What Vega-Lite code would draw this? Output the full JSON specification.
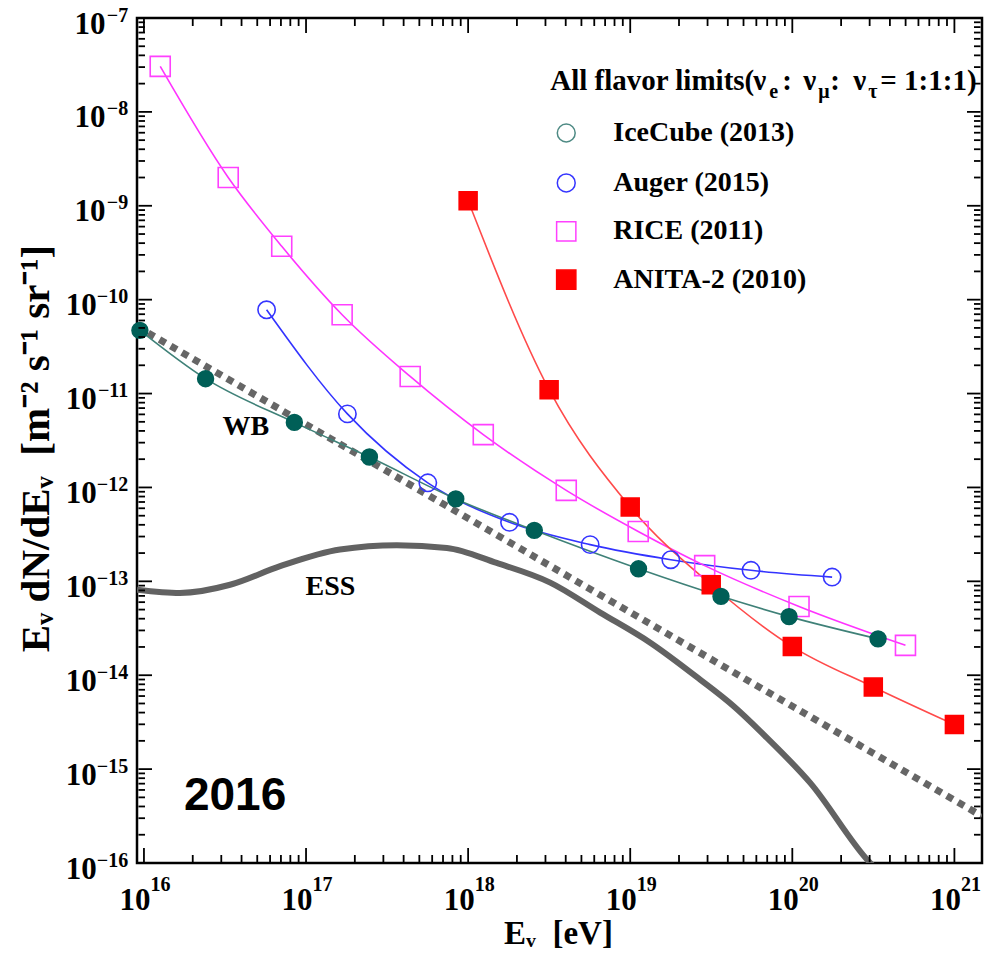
{
  "$schema": "https://vega.github.io/schema/vega-lite/v6.json",
  "width": 845,
  "height": 845,
  "autosize": {"type": "none"},
  "padding": {"left": 137, "top": 18, "right": 7, "bottom": 98},
  "background": "#ffffff",
  "config": {"view": {"stroke": "#000000", "strokeWidth": 2.5}, "font": "Liberation Serif"},
  "datasets": {
    "limits": [
      {"series": "Auger (2015)", "E": 5.71e16, "F": 7.8e-11},
      {"series": "Auger (2015)", "E": 1.80e17, "F": 6.07e-12},
      {"series": "Auger (2015)", "E": 5.64e17, "F": 1.12e-12},
      {"series": "Auger (2015)", "E": 1.80e18, "F": 4.25e-13},
      {"series": "Auger (2015)", "E": 5.66e18, "F": 2.46e-13},
      {"series": "Auger (2015)", "E": 1.78e19, "F": 1.70e-13},
      {"series": "Auger (2015)", "E": 5.56e19, "F": 1.31e-13},
      {"series": "Auger (2015)", "E": 1.76e20, "F": 1.11e-13},
      {"series": "RICE (2011)", "E": 1.26e16, "F": 3.05e-8},
      {"series": "RICE (2011)", "E": 3.31e16, "F": 2.0e-9},
      {"series": "RICE (2011)", "E": 7.08e16, "F": 3.7e-10},
      {"series": "RICE (2011)", "E": 1.67e17, "F": 6.9e-11},
      {"series": "RICE (2011)", "E": 4.39e17, "F": 1.52e-11},
      {"series": "RICE (2011)", "E": 1.24e18, "F": 3.65e-12},
      {"series": "RICE (2011)", "E": 4.03e18, "F": 9.3e-13},
      {"series": "RICE (2011)", "E": 1.12e19, "F": 3.4e-13},
      {"series": "RICE (2011)", "E": 2.88e19, "F": 1.47e-13},
      {"series": "RICE (2011)", "E": 1.10e20, "F": 5.4e-14},
      {"series": "RICE (2011)", "E": 4.99e20, "F": 2.08e-14},
      {"series": "ANITA-2 (2010)", "E": 1.0e18, "F": 1.13e-9},
      {"series": "ANITA-2 (2010)", "E": 3.16e18, "F": 1.1e-11},
      {"series": "ANITA-2 (2010)", "E": 1.0e19, "F": 6.2e-13},
      {"series": "ANITA-2 (2010)", "E": 3.16e19, "F": 9.2e-14},
      {"series": "ANITA-2 (2010)", "E": 1.0e20, "F": 2.02e-14},
      {"series": "ANITA-2 (2010)", "E": 3.16e20, "F": 7.5e-15},
      {"series": "ANITA-2 (2010)", "E": 1.0e21, "F": 2.98e-15},
      {"series": "IceCube (2013)", "E": 9.44e15, "F": 4.71e-11},
      {"series": "IceCube (2013)", "E": 2.40e16, "F": 1.44e-11},
      {"series": "IceCube (2013)", "E": 8.47e16, "F": 4.93e-12},
      {"series": "IceCube (2013)", "E": 2.46e17, "F": 2.11e-12},
      {"series": "IceCube (2013)", "E": 8.39e17, "F": 7.55e-13},
      {"series": "IceCube (2013)", "E": 2.56e18, "F": 3.49e-13},
      {"series": "IceCube (2013)", "E": 1.125e19, "F": 1.36e-13},
      {"series": "IceCube (2013)", "E": 3.63e19, "F": 6.92e-14},
      {"series": "IceCube (2013)", "E": 9.55e19, "F": 4.21e-14},
      {"series": "IceCube (2013)", "E": 3.38e20, "F": 2.44e-14}
    ],
    "ess": [
      {"E": 9.06e15, "F": 8.16e-14},
      {"E": 1.667e16, "F": 7.52e-14},
      {"E": 3.40e16, "F": 9.2e-14},
      {"E": 6.92e16, "F": 1.45e-13},
      {"E": 1.62e17, "F": 2.18e-13},
      {"E": 3.63e17, "F": 2.42e-13},
      {"E": 7.40e17, "F": 2.27e-13},
      {"E": 1.50e18, "F": 1.57e-13},
      {"E": 3.21e18, "F": 9.7e-14},
      {"E": 6.53e18, "F": 4.65e-14},
      {"E": 1.33e19, "F": 2.22e-14},
      {"E": 2.70e19, "F": 8.98e-15},
      {"E": 4.35e19, "F": 4.67e-15},
      {"E": 6.98e19, "F": 2.15e-15},
      {"E": 1.29e20, "F": 7.13e-16},
      {"E": 2.96e20, "F": 1.04e-16},
      {"E": 3.49e20, "F": 7.8e-17}
    ],
    "wb": [
      {"E": 9.06e15, "F": 5.19e-11},
      {"E": 1.48e21, "F": 3.15e-16}
    ],
    "xBottom": [
      {"E":1e16,"a":1.02e-16,"b":1.445e-16},{"E":1e17,"a":1.02e-16,"b":1.445e-16},{"E":1e18,"a":1.02e-16,"b":1.445e-16},
      {"E":1e19,"a":1.02e-16,"b":1.445e-16},{"E":1e20,"a":1.02e-16,"b":1.445e-16},{"E":1e21,"a":1.02e-16,"b":1.445e-16},
      {"E":2e16,"a":1.02e-16,"b":1.217e-16},{"E":3e16,"a":1.02e-16,"b":1.217e-16},{"E":4e16,"a":1.02e-16,"b":1.217e-16},{"E":5e16,"a":1.02e-16,"b":1.217e-16},
      {"E":6e16,"a":1.02e-16,"b":1.217e-16},{"E":7e16,"a":1.02e-16,"b":1.217e-16},{"E":8e16,"a":1.02e-16,"b":1.217e-16},{"E":9e16,"a":1.02e-16,"b":1.217e-16},
      {"E":2e17,"a":1.02e-16,"b":1.217e-16},{"E":3e17,"a":1.02e-16,"b":1.217e-16},{"E":4e17,"a":1.02e-16,"b":1.217e-16},{"E":5e17,"a":1.02e-16,"b":1.217e-16},
      {"E":6e17,"a":1.02e-16,"b":1.217e-16},{"E":7e17,"a":1.02e-16,"b":1.217e-16},{"E":8e17,"a":1.02e-16,"b":1.217e-16},{"E":9e17,"a":1.02e-16,"b":1.217e-16},
      {"E":2e18,"a":1.02e-16,"b":1.217e-16},{"E":3e18,"a":1.02e-16,"b":1.217e-16},{"E":4e18,"a":1.02e-16,"b":1.217e-16},{"E":5e18,"a":1.02e-16,"b":1.217e-16},
      {"E":6e18,"a":1.02e-16,"b":1.217e-16},{"E":7e18,"a":1.02e-16,"b":1.217e-16},{"E":8e18,"a":1.02e-16,"b":1.217e-16},{"E":9e18,"a":1.02e-16,"b":1.217e-16},
      {"E":2e19,"a":1.02e-16,"b":1.217e-16},{"E":3e19,"a":1.02e-16,"b":1.217e-16},{"E":4e19,"a":1.02e-16,"b":1.217e-16},{"E":5e19,"a":1.02e-16,"b":1.217e-16},
      {"E":6e19,"a":1.02e-16,"b":1.217e-16},{"E":7e19,"a":1.02e-16,"b":1.217e-16},{"E":8e19,"a":1.02e-16,"b":1.217e-16},{"E":9e19,"a":1.02e-16,"b":1.217e-16},
      {"E":2e20,"a":1.02e-16,"b":1.217e-16},{"E":3e20,"a":1.02e-16,"b":1.217e-16},{"E":4e20,"a":1.02e-16,"b":1.217e-16},{"E":5e20,"a":1.02e-16,"b":1.217e-16},
      {"E":6e20,"a":1.02e-16,"b":1.217e-16},{"E":7e20,"a":1.02e-16,"b":1.217e-16},{"E":8e20,"a":1.02e-16,"b":1.217e-16},{"E":9e20,"a":1.02e-16,"b":1.217e-16}
    ],
    "xTop": [
      {"E":1e16,"a":9.8e-8,"b":6.92e-8},{"E":1e17,"a":9.8e-8,"b":6.92e-8},{"E":1e18,"a":9.8e-8,"b":6.92e-8},
      {"E":1e19,"a":9.8e-8,"b":6.92e-8},{"E":1e20,"a":9.8e-8,"b":6.92e-8},{"E":1e21,"a":9.8e-8,"b":6.92e-8},
      {"E":2e16,"a":9.8e-8,"b":8.22e-8},{"E":3e16,"a":9.8e-8,"b":8.22e-8},{"E":4e16,"a":9.8e-8,"b":8.22e-8},{"E":5e16,"a":9.8e-8,"b":8.22e-8},
      {"E":6e16,"a":9.8e-8,"b":8.22e-8},{"E":7e16,"a":9.8e-8,"b":8.22e-8},{"E":8e16,"a":9.8e-8,"b":8.22e-8},{"E":9e16,"a":9.8e-8,"b":8.22e-8},
      {"E":2e17,"a":9.8e-8,"b":8.22e-8},{"E":3e17,"a":9.8e-8,"b":8.22e-8},{"E":4e17,"a":9.8e-8,"b":8.22e-8},{"E":5e17,"a":9.8e-8,"b":8.22e-8},
      {"E":6e17,"a":9.8e-8,"b":8.22e-8},{"E":7e17,"a":9.8e-8,"b":8.22e-8},{"E":8e17,"a":9.8e-8,"b":8.22e-8},{"E":9e17,"a":9.8e-8,"b":8.22e-8},
      {"E":2e18,"a":9.8e-8,"b":8.22e-8},{"E":3e18,"a":9.8e-8,"b":8.22e-8},{"E":4e18,"a":9.8e-8,"b":8.22e-8},{"E":5e18,"a":9.8e-8,"b":8.22e-8},
      {"E":6e18,"a":9.8e-8,"b":8.22e-8},{"E":7e18,"a":9.8e-8,"b":8.22e-8},{"E":8e18,"a":9.8e-8,"b":8.22e-8},{"E":9e18,"a":9.8e-8,"b":8.22e-8},
      {"E":2e19,"a":9.8e-8,"b":8.22e-8},{"E":3e19,"a":9.8e-8,"b":8.22e-8},{"E":4e19,"a":9.8e-8,"b":8.22e-8},{"E":5e19,"a":9.8e-8,"b":8.22e-8},
      {"E":6e19,"a":9.8e-8,"b":8.22e-8},{"E":7e19,"a":9.8e-8,"b":8.22e-8},{"E":8e19,"a":9.8e-8,"b":8.22e-8},{"E":9e19,"a":9.8e-8,"b":8.22e-8},
      {"E":2e20,"a":9.8e-8,"b":8.22e-8},{"E":3e20,"a":9.8e-8,"b":8.22e-8},{"E":4e20,"a":9.8e-8,"b":8.22e-8},{"E":5e20,"a":9.8e-8,"b":8.22e-8},
      {"E":6e20,"a":9.8e-8,"b":8.22e-8},{"E":7e20,"a":9.8e-8,"b":8.22e-8},{"E":8e20,"a":9.8e-8,"b":8.22e-8},{"E":9e20,"a":9.8e-8,"b":8.22e-8}
    ],
    "yLeft": [
      {"F":1e-16,"a":9.25e15,"b":1.1214e16},{"F":1e-15,"a":9.25e15,"b":1.1214e16},{"F":1e-14,"a":9.25e15,"b":1.1214e16},{"F":1e-13,"a":9.25e15,"b":1.1214e16},
      {"F":1e-12,"a":9.25e15,"b":1.1214e16},{"F":1e-11,"a":9.25e15,"b":1.1214e16},{"F":1e-10,"a":9.25e15,"b":1.1214e16},{"F":1e-9,"a":9.25e15,"b":1.1214e16},
      {"F":1e-8,"a":9.25e15,"b":1.1214e16},{"F":1e-7,"a":9.25e15,"b":1.1214e16},
      {"F":2e-16,"a":9.25e15,"b":1.0152e16},{"F":3e-16,"a":9.25e15,"b":1.0152e16},{"F":4e-16,"a":9.25e15,"b":1.0152e16},{"F":5e-16,"a":9.25e15,"b":1.0152e16},
      {"F":6e-16,"a":9.25e15,"b":1.0152e16},{"F":7e-16,"a":9.25e15,"b":1.0152e16},{"F":8e-16,"a":9.25e15,"b":1.0152e16},{"F":9e-16,"a":9.25e15,"b":1.0152e16},
      {"F":2e-15,"a":9.25e15,"b":1.0152e16},{"F":3e-15,"a":9.25e15,"b":1.0152e16},{"F":4e-15,"a":9.25e15,"b":1.0152e16},{"F":5e-15,"a":9.25e15,"b":1.0152e16},
      {"F":6e-15,"a":9.25e15,"b":1.0152e16},{"F":7e-15,"a":9.25e15,"b":1.0152e16},{"F":8e-15,"a":9.25e15,"b":1.0152e16},{"F":9e-15,"a":9.25e15,"b":1.0152e16},
      {"F":2e-14,"a":9.25e15,"b":1.0152e16},{"F":3e-14,"a":9.25e15,"b":1.0152e16},{"F":4e-14,"a":9.25e15,"b":1.0152e16},{"F":5e-14,"a":9.25e15,"b":1.0152e16},
      {"F":6e-14,"a":9.25e15,"b":1.0152e16},{"F":7e-14,"a":9.25e15,"b":1.0152e16},{"F":8e-14,"a":9.25e15,"b":1.0152e16},{"F":9e-14,"a":9.25e15,"b":1.0152e16},
      {"F":2e-13,"a":9.25e15,"b":1.0152e16},{"F":3e-13,"a":9.25e15,"b":1.0152e16},{"F":4e-13,"a":9.25e15,"b":1.0152e16},{"F":5e-13,"a":9.25e15,"b":1.0152e16},
      {"F":6e-13,"a":9.25e15,"b":1.0152e16},{"F":7e-13,"a":9.25e15,"b":1.0152e16},{"F":8e-13,"a":9.25e15,"b":1.0152e16},{"F":9e-13,"a":9.25e15,"b":1.0152e16},
      {"F":2e-12,"a":9.25e15,"b":1.0152e16},{"F":3e-12,"a":9.25e15,"b":1.0152e16},{"F":4e-12,"a":9.25e15,"b":1.0152e16},{"F":5e-12,"a":9.25e15,"b":1.0152e16},
      {"F":6e-12,"a":9.25e15,"b":1.0152e16},{"F":7e-12,"a":9.25e15,"b":1.0152e16},{"F":8e-12,"a":9.25e15,"b":1.0152e16},{"F":9e-12,"a":9.25e15,"b":1.0152e16},
      {"F":2e-11,"a":9.25e15,"b":1.0152e16},{"F":3e-11,"a":9.25e15,"b":1.0152e16},{"F":4e-11,"a":9.25e15,"b":1.0152e16},{"F":5e-11,"a":9.25e15,"b":1.0152e16},
      {"F":6e-11,"a":9.25e15,"b":1.0152e16},{"F":7e-11,"a":9.25e15,"b":1.0152e16},{"F":8e-11,"a":9.25e15,"b":1.0152e16},{"F":9e-11,"a":9.25e15,"b":1.0152e16},
      {"F":2e-10,"a":9.25e15,"b":1.0152e16},{"F":3e-10,"a":9.25e15,"b":1.0152e16},{"F":4e-10,"a":9.25e15,"b":1.0152e16},{"F":5e-10,"a":9.25e15,"b":1.0152e16},
      {"F":6e-10,"a":9.25e15,"b":1.0152e16},{"F":7e-10,"a":9.25e15,"b":1.0152e16},{"F":8e-10,"a":9.25e15,"b":1.0152e16},{"F":9e-10,"a":9.25e15,"b":1.0152e16},
      {"F":2e-9,"a":9.25e15,"b":1.0152e16},{"F":3e-9,"a":9.25e15,"b":1.0152e16},{"F":4e-9,"a":9.25e15,"b":1.0152e16},{"F":5e-9,"a":9.25e15,"b":1.0152e16},
      {"F":6e-9,"a":9.25e15,"b":1.0152e16},{"F":7e-9,"a":9.25e15,"b":1.0152e16},{"F":8e-9,"a":9.25e15,"b":1.0152e16},{"F":9e-9,"a":9.25e15,"b":1.0152e16},
      {"F":2e-8,"a":9.25e15,"b":1.0152e16},{"F":3e-8,"a":9.25e15,"b":1.0152e16},{"F":4e-8,"a":9.25e15,"b":1.0152e16},{"F":5e-8,"a":9.25e15,"b":1.0152e16},
      {"F":6e-8,"a":9.25e15,"b":1.0152e16},{"F":7e-8,"a":9.25e15,"b":1.0152e16},{"F":8e-8,"a":9.25e15,"b":1.0152e16},{"F":9e-8,"a":9.25e15,"b":1.0152e16}
    ],
    "yRight": [
      {"F":1e-16,"a":1.45e21,"b":1.1958e21},{"F":1e-15,"a":1.45e21,"b":1.1958e21},{"F":1e-14,"a":1.45e21,"b":1.1958e21},{"F":1e-13,"a":1.45e21,"b":1.1958e21},
      {"F":1e-12,"a":1.45e21,"b":1.1958e21},{"F":1e-11,"a":1.45e21,"b":1.1958e21},{"F":1e-10,"a":1.45e21,"b":1.1958e21},{"F":1e-9,"a":1.45e21,"b":1.1958e21},
      {"F":1e-8,"a":1.45e21,"b":1.1958e21},{"F":1e-7,"a":1.45e21,"b":1.1958e21},
      {"F":2e-16,"a":1.45e21,"b":1.3208e21},{"F":3e-16,"a":1.45e21,"b":1.3208e21},{"F":4e-16,"a":1.45e21,"b":1.3208e21},{"F":5e-16,"a":1.45e21,"b":1.3208e21},
      {"F":6e-16,"a":1.45e21,"b":1.3208e21},{"F":7e-16,"a":1.45e21,"b":1.3208e21},{"F":8e-16,"a":1.45e21,"b":1.3208e21},{"F":9e-16,"a":1.45e21,"b":1.3208e21},
      {"F":2e-15,"a":1.45e21,"b":1.3208e21},{"F":3e-15,"a":1.45e21,"b":1.3208e21},{"F":4e-15,"a":1.45e21,"b":1.3208e21},{"F":5e-15,"a":1.45e21,"b":1.3208e21},
      {"F":6e-15,"a":1.45e21,"b":1.3208e21},{"F":7e-15,"a":1.45e21,"b":1.3208e21},{"F":8e-15,"a":1.45e21,"b":1.3208e21},{"F":9e-15,"a":1.45e21,"b":1.3208e21},
      {"F":2e-14,"a":1.45e21,"b":1.3208e21},{"F":3e-14,"a":1.45e21,"b":1.3208e21},{"F":4e-14,"a":1.45e21,"b":1.3208e21},{"F":5e-14,"a":1.45e21,"b":1.3208e21},
      {"F":6e-14,"a":1.45e21,"b":1.3208e21},{"F":7e-14,"a":1.45e21,"b":1.3208e21},{"F":8e-14,"a":1.45e21,"b":1.3208e21},{"F":9e-14,"a":1.45e21,"b":1.3208e21},
      {"F":2e-13,"a":1.45e21,"b":1.3208e21},{"F":3e-13,"a":1.45e21,"b":1.3208e21},{"F":4e-13,"a":1.45e21,"b":1.3208e21},{"F":5e-13,"a":1.45e21,"b":1.3208e21},
      {"F":6e-13,"a":1.45e21,"b":1.3208e21},{"F":7e-13,"a":1.45e21,"b":1.3208e21},{"F":8e-13,"a":1.45e21,"b":1.3208e21},{"F":9e-13,"a":1.45e21,"b":1.3208e21},
      {"F":2e-12,"a":1.45e21,"b":1.3208e21},{"F":3e-12,"a":1.45e21,"b":1.3208e21},{"F":4e-12,"a":1.45e21,"b":1.3208e21},{"F":5e-12,"a":1.45e21,"b":1.3208e21},
      {"F":6e-12,"a":1.45e21,"b":1.3208e21},{"F":7e-12,"a":1.45e21,"b":1.3208e21},{"F":8e-12,"a":1.45e21,"b":1.3208e21},{"F":9e-12,"a":1.45e21,"b":1.3208e21},
      {"F":2e-11,"a":1.45e21,"b":1.3208e21},{"F":3e-11,"a":1.45e21,"b":1.3208e21},{"F":4e-11,"a":1.45e21,"b":1.3208e21},{"F":5e-11,"a":1.45e21,"b":1.3208e21},
      {"F":6e-11,"a":1.45e21,"b":1.3208e21},{"F":7e-11,"a":1.45e21,"b":1.3208e21},{"F":8e-11,"a":1.45e21,"b":1.3208e21},{"F":9e-11,"a":1.45e21,"b":1.3208e21},
      {"F":2e-10,"a":1.45e21,"b":1.3208e21},{"F":3e-10,"a":1.45e21,"b":1.3208e21},{"F":4e-10,"a":1.45e21,"b":1.3208e21},{"F":5e-10,"a":1.45e21,"b":1.3208e21},
      {"F":6e-10,"a":1.45e21,"b":1.3208e21},{"F":7e-10,"a":1.45e21,"b":1.3208e21},{"F":8e-10,"a":1.45e21,"b":1.3208e21},{"F":9e-10,"a":1.45e21,"b":1.3208e21},
      {"F":2e-9,"a":1.45e21,"b":1.3208e21},{"F":3e-9,"a":1.45e21,"b":1.3208e21},{"F":4e-9,"a":1.45e21,"b":1.3208e21},{"F":5e-9,"a":1.45e21,"b":1.3208e21},
      {"F":6e-9,"a":1.45e21,"b":1.3208e21},{"F":7e-9,"a":1.45e21,"b":1.3208e21},{"F":8e-9,"a":1.45e21,"b":1.3208e21},{"F":9e-9,"a":1.45e21,"b":1.3208e21},
      {"F":2e-8,"a":1.45e21,"b":1.3208e21},{"F":3e-8,"a":1.45e21,"b":1.3208e21},{"F":4e-8,"a":1.45e21,"b":1.3208e21},{"F":5e-8,"a":1.45e21,"b":1.3208e21},
      {"F":6e-8,"a":1.45e21,"b":1.3208e21},{"F":7e-8,"a":1.45e21,"b":1.3208e21},{"F":8e-8,"a":1.45e21,"b":1.3208e21},{"F":9e-8,"a":1.45e21,"b":1.3208e21}
    ],
    "legendRows": [
      {"series": "IceCube (2013)", "E": 4.03e18, "F": 5.96e-9},
      {"series": "Auger (2015)", "E": 4.03e18, "F": 1.75e-9},
      {"series": "RICE (2011)", "E": 4.03e18, "F": 5.34e-10},
      {"series": "ANITA-2 (2010)", "E": 4.03e18, "F": 1.633e-10}
    ],
    "notes": [
      {"label": "WB", "E": 4.25e16, "F": 3.65e-12},
      {"label": "ESS", "E": 1.416e17, "F": 7.21e-14}
    ],
    "year": [
      {"label": "2016", "E": 3.65e16, "F": 3.7e-16}
    ],
    "titleMain": [
      {"label": "All flavor limits(", "E": 3.208e18, "F": 1.723e-8},
      {"label": "ν", "E": 5.74e19, "F": 1.723e-8},
      {"label": ":", "E": 8.67e19, "F": 1.723e-8},
      {"label": "ν", "E": 1.169e20, "F": 1.723e-8},
      {"label": ":", "E": 1.717e20, "F": 1.723e-8},
      {"label": "ν", "E": 2.38e20, "F": 1.723e-8},
      {"label": "= 1:1:1)", "E": 3.49e20, "F": 1.723e-8}
    ],
    "titleSub": [
      {"label": "e", "E": 7.21e19, "F": 1.416e-8},
      {"label": "μ", "E": 1.446e20, "F": 1.416e-8},
      {"label": "τ", "E": 2.94e20, "F": 1.416e-8}
    ]
  },
  "resolve": {"axis": {"x": "independent", "y": "independent"}},
  "layer": [
    {
      "data": {"name": "ess"},
      "mark": {"type": "line", "interpolate": "monotone", "color": "#626262", "strokeWidth": 6, "clip": true},
      "encoding": {
        "x": {
          "field": "E", "type": "quantitative",
          "scale": {"type": "log", "domain": [9.06e15, 1.48e21], "nice": false},
          "axis": {
            "orient": "bottom", "values": [1e16, 1e17, 1e18, 1e19, 1e20, 1e21],
            "labelExpr": "'10'",
            "tickSize": 0, "tickOpacity": 0, "domain": false, "grid": false,
            "labelFont": "Liberation Serif", "labelFontWeight": "bold", "labelFontSize": 31, "labelColor": "#000000",
            "labelAlign": "right", "labelBaseline": "alphabetic", "labelOffset": 6, "labelPadding": 46.7,
            "labelOverlap": false, "labelFlush": false, "labelBound": false,
            "title": "Eᵥ\u00a0\u00a0[eV]", "titleFont": "Liberation Serif", "titleFontSize": 33, "titleFontWeight": "bold", "titleColor": "#000000",
            "titleBaseline": "alphabetic", "titleAlign": "center", "titleX": 421, "titleY": 80.5
          }
        },
        "y": {
          "field": "F", "type": "quantitative",
          "scale": {"type": "log", "domain": [1e-16, 1e-7], "nice": false},
          "axis": {
            "orient": "left", "values": [1e-16, 1e-15, 1e-14, 1e-13, 1e-12, 1e-11, 1e-10],
            "labelExpr": "'10'",
            "tickSize": 0, "tickOpacity": 0, "domain": false, "grid": false,
            "labelFont": "Liberation Serif", "labelFontWeight": "bold", "labelFontSize": 31, "labelColor": "#000000",
            "labelAlign": "right", "labelBaseline": "alphabetic", "labelOffset": 15, "labelPadding": 40.7,
            "labelOverlap": false, "labelFlush": false, "labelBound": false,
            "title": "Eᵥ dN/dEᵥ\u00a0\u00a0[m⁻² s⁻¹ sr⁻¹]", "titleFont": "Liberation Serif", "titleFontSize": 41, "titleFontWeight": "bold", "titleColor": "#000000",
            "titleAngle": 270, "titleBaseline": "alphabetic", "titleAlign": "center", "titleX": -89, "titleY": 430
          }
        }
      }
    },
    {
      "data": {"name": "wb"},
      "mark": {"type": "line", "color": "#666666", "strokeWidth": 7, "strokeDash": [7, 6], "clip": true},
      "encoding": {
        "x": {
          "field": "E", "type": "quantitative",
          "scale": {"type": "log", "domain": [9.06e15, 1.48e21], "nice": false},
          "axis": {
            "orient": "bottom", "values": [1e16, 1e17, 1e18, 1e19, 1e20, 1e21],
            "labelExpr": "'' + round(log(datum.value)/LN10)",
            "tickSize": 0, "tickOpacity": 0, "domain": false, "grid": false,
            "labelFont": "Liberation Serif", "labelFontWeight": "bold", "labelFontSize": 20, "labelColor": "#000000",
            "labelAlign": "left", "labelBaseline": "alphabetic", "labelOffset": 6, "labelPadding": 27,
            "labelOverlap": false, "labelFlush": false, "labelBound": false, "title": null
          }
        },
        "y": {
          "field": "F", "type": "quantitative",
          "scale": {"type": "log", "domain": [1e-16, 1e-7], "nice": false},
          "axis": {
            "orient": "left", "values": [1e-9, 1e-8, 1e-7],
            "labelExpr": "'10'",
            "tickSize": 0, "tickOpacity": 0, "domain": false, "grid": false,
            "labelFont": "Liberation Serif", "labelFontWeight": "bold", "labelFontSize": 31, "labelColor": "#000000",
            "labelAlign": "right", "labelBaseline": "alphabetic", "labelOffset": 15, "labelPadding": 32,
            "labelOverlap": false, "labelFlush": false, "labelBound": false, "title": null
          }
        }
      }
    },
    {
      "data": {"name": "limits"},
      "mark": {"type": "line", "interpolate": "monotone", "strokeWidth": 1.6},
      "encoding": {
        "x": {"field": "E", "type": "quantitative", "scale": {"type": "log", "domain": [9.06e15, 1.48e21], "nice": false}, "axis": null},
        "y": {
          "field": "F", "type": "quantitative",
          "scale": {"type": "log", "domain": [1e-16, 1e-7], "nice": false},
          "axis": {
            "orient": "left", "values": [1e-16, 1e-15, 1e-14, 1e-13, 1e-12, 1e-11, 1e-10, 1e-9, 1e-8, 1e-7],
            "labelExpr": "'−' + (-round(log(datum.value)/LN10))",
            "tickSize": 0, "tickOpacity": 0, "domain": false, "grid": false,
            "labelFont": "Liberation Serif", "labelFontWeight": "bold", "labelFontSize": 20, "labelColor": "#000000",
            "labelAlign": "right", "labelBaseline": "alphabetic", "labelOffset": 3, "labelPadding": 9.3,
            "labelOverlap": false, "labelFlush": false, "labelBound": false, "title": null
          }
        },
        "color": {
          "field": "series", "type": "nominal",
          "scale": {"domain": ["IceCube (2013)", "Auger (2015)", "RICE (2011)", "ANITA-2 (2010)"], "range": ["#3f8178", "#3333ff", "#ff33ff", "#ff4a4a"]},
          "legend": null
        }
      }
    },
    {
      "data": {"name": "limits"},
      "mark": {"type": "point", "strokeWidth": 1.6, "opacity": 1},
      "encoding": {
        "x": {"field": "E", "type": "quantitative", "scale": {"type": "log", "domain": [9.06e15, 1.48e21], "nice": false}, "axis": null},
        "y": {"field": "F", "type": "quantitative", "scale": {"type": "log", "domain": [1e-16, 1e-7], "nice": false}, "axis": null},
        "shape": {"condition": {"test": "datum.series === 'RICE (2011)' || datum.series === 'ANITA-2 (2010)'", "value": "square"}, "value": "circle"},
        "size": {"condition": [
          {"test": "datum.series === 'IceCube (2013)'", "value": 250},
          {"test": "datum.series === 'Auger (2015)'", "value": 300},
          {"test": "datum.series === 'RICE (2011)'", "value": 400}
        ], "value": 320},
        "fill": {"condition": [
          {"test": "datum.series === 'IceCube (2013)'", "value": "#005f57"},
          {"test": "datum.series === 'ANITA-2 (2010)'", "value": "#ff0000"}
        ], "value": "transparent"},
        "stroke": {
          "field": "series", "type": "nominal",
          "scale": {"domain": ["IceCube (2013)", "Auger (2015)", "RICE (2011)", "ANITA-2 (2010)"], "range": ["#005f57", "#3535ff", "#ff40ff", "#ff0000"]},
          "legend": null
        }
      }
    },
    {
      "data": {"name": "legendRows"},
      "mark": {"type": "point", "strokeWidth": 1.5, "opacity": 1},
      "encoding": {
        "x": {"field": "E", "type": "quantitative", "scale": {"type": "log", "domain": [9.06e15, 1.48e21], "nice": false}, "axis": null},
        "y": {"field": "F", "type": "quantitative", "scale": {"type": "log", "domain": [1e-16, 1e-7], "nice": false}, "axis": null},
        "shape": {"condition": {"test": "datum.series === 'RICE (2011)' || datum.series === 'ANITA-2 (2010)'", "value": "square"}, "value": "circle"},
        "size": {"condition": {"test": "datum.series === 'RICE (2011)' || datum.series === 'ANITA-2 (2010)'", "value": 370}, "value": 320},
        "fill": {"condition": {"test": "datum.series === 'ANITA-2 (2010)'", "value": "#ff0000"}, "value": "transparent"},
        "stroke": {"condition": [
          {"test": "datum.series === 'IceCube (2013)'", "value": "#4e8a84"},
          {"test": "datum.series === 'Auger (2015)'", "value": "#3535ff"},
          {"test": "datum.series === 'RICE (2011)'", "value": "#ff40ff"}
        ], "value": "#ff0000"}
      }
    },
    {
      "data": {"name": "legendRows"},
      "mark": {"type": "text", "font": "Liberation Serif", "fontWeight": "bold", "fontSize": 28, "align": "left", "baseline": "middle", "dx": 47, "color": "#000000"},
      "encoding": {
        "x": {"field": "E", "type": "quantitative", "scale": {"type": "log", "domain": [9.06e15, 1.48e21], "nice": false}, "axis": null},
        "y": {"field": "F", "type": "quantitative", "scale": {"type": "log", "domain": [1e-16, 1e-7], "nice": false}, "axis": null},
        "text": {"field": "series"}
      }
    },
    {
      "data": {"name": "notes"},
      "mark": {"type": "text", "font": "Liberation Serif", "fontWeight": "bold", "fontSize": 28, "align": "center", "baseline": "alphabetic", "color": "#000000"},
      "encoding": {
        "x": {"field": "E", "type": "quantitative", "scale": {"type": "log", "domain": [9.06e15, 1.48e21], "nice": false}, "axis": null},
        "y": {"field": "F", "type": "quantitative", "scale": {"type": "log", "domain": [1e-16, 1e-7], "nice": false}, "axis": null},
        "text": {"field": "label"}
      }
    },
    {
      "data": {"name": "year"},
      "mark": {"type": "text", "font": "Liberation Sans", "fontWeight": "bold", "fontSize": 46, "align": "center", "baseline": "alphabetic", "color": "#000000"},
      "encoding": {
        "x": {"field": "E", "type": "quantitative", "scale": {"type": "log", "domain": [9.06e15, 1.48e21], "nice": false}, "axis": null},
        "y": {"field": "F", "type": "quantitative", "scale": {"type": "log", "domain": [1e-16, 1e-7], "nice": false}, "axis": null},
        "text": {"field": "label"}
      }
    },
    {
      "data": {"name": "titleMain"},
      "mark": {"type": "text", "font": "Liberation Serif", "fontWeight": "bold", "fontSize": 29, "align": "left", "baseline": "alphabetic", "color": "#000000"},
      "encoding": {
        "x": {"field": "E", "type": "quantitative", "scale": {"type": "log", "domain": [9.06e15, 1.48e21], "nice": false}, "axis": null},
        "y": {"field": "F", "type": "quantitative", "scale": {"type": "log", "domain": [1e-16, 1e-7], "nice": false}, "axis": null},
        "text": {"field": "label"}
      }
    },
    {
      "data": {"name": "titleSub"},
      "mark": {"type": "text", "font": "Liberation Serif", "fontWeight": "bold", "fontSize": 20, "align": "left", "baseline": "alphabetic", "color": "#000000"},
      "encoding": {
        "x": {"field": "E", "type": "quantitative", "scale": {"type": "log", "domain": [9.06e15, 1.48e21], "nice": false}, "axis": null},
        "y": {"field": "F", "type": "quantitative", "scale": {"type": "log", "domain": [1e-16, 1e-7], "nice": false}, "axis": null},
        "text": {"field": "label"}
      }
    },
    {
      "data": {"name": "xBottom"},
      "transform": [{"fold": ["a", "b"], "as": ["end", "Fv"]}],
      "mark": {"type": "line", "color": "#000000", "strokeWidth": 1.8},
      "encoding": {
        "x": {"field": "E", "type": "quantitative", "scale": {"type": "log", "domain": [9.06e15, 1.48e21], "nice": false}, "axis": null},
        "y": {"field": "Fv", "type": "quantitative", "scale": {"type": "log", "domain": [1e-16, 1e-7], "nice": false}, "axis": null},
        "detail": {"field": "E", "type": "nominal"}
      }
    },
    {
      "data": {"name": "xTop"},
      "transform": [{"fold": ["a", "b"], "as": ["end", "Fv"]}],
      "mark": {"type": "line", "color": "#000000", "strokeWidth": 1.8},
      "encoding": {
        "x": {"field": "E", "type": "quantitative", "scale": {"type": "log", "domain": [9.06e15, 1.48e21], "nice": false}, "axis": null},
        "y": {"field": "Fv", "type": "quantitative", "scale": {"type": "log", "domain": [1e-16, 1e-7], "nice": false}, "axis": null},
        "detail": {"field": "E", "type": "nominal"}
      }
    },
    {
      "data": {"name": "yLeft"},
      "transform": [{"fold": ["a", "b"], "as": ["end", "Ev"]}],
      "mark": {"type": "line", "color": "#000000", "strokeWidth": 1.8},
      "encoding": {
        "x": {"field": "Ev", "type": "quantitative", "scale": {"type": "log", "domain": [9.06e15, 1.48e21], "nice": false}, "axis": null},
        "y": {"field": "F", "type": "quantitative", "scale": {"type": "log", "domain": [1e-16, 1e-7], "nice": false}, "axis": null},
        "detail": {"field": "F", "type": "nominal"}
      }
    },
    {
      "data": {"name": "yRight"},
      "transform": [{"fold": ["a", "b"], "as": ["end", "Ev"]}],
      "mark": {"type": "line", "color": "#000000", "strokeWidth": 1.8},
      "encoding": {
        "x": {"field": "Ev", "type": "quantitative", "scale": {"type": "log", "domain": [9.06e15, 1.48e21], "nice": false}, "axis": null},
        "y": {"field": "F", "type": "quantitative", "scale": {"type": "log", "domain": [1e-16, 1e-7], "nice": false}, "axis": null},
        "detail": {"field": "F", "type": "nominal"}
      }
    }
  ]
}
